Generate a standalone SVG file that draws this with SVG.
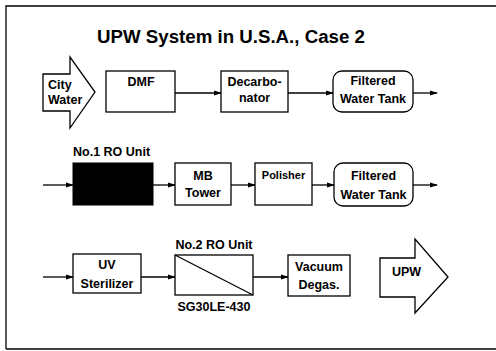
<svg xmlns="http://www.w3.org/2000/svg" width="496" height="351" viewBox="0 0 496 351">
<defs>
<style>
.t{font-family:"Liberation Sans",Arial,sans-serif;font-weight:bold;font-size:12.5px;fill:#000}
.c{text-anchor:middle}
.b{fill:#fff;stroke:#000;stroke-width:1.3}
.l{stroke:#000;stroke-width:1.3;fill:none}
</style>
<marker id="ah" markerWidth="8" markerHeight="6" refX="7" refY="3" orient="auto" markerUnits="userSpaceOnUse">
<path d="M0,0.5 L8,3 L0,5.5 Z" fill="#000"/>
</marker>
</defs>
<rect width="496" height="351" fill="#fff"/>
<g id="frame">
<path d="M6,349 L6,6 L496,6" class="l"/>
<path d="M6,349 L496,349" class="l"/>
</g>
<text id="title" x="97" y="43" class="t" style="font-size:18.7px">UPW System in U.S.A., Case 2</text>

<g id="connectors">
<line x1="175" y1="93" x2="221" y2="93" class="l" marker-end="url(#ah)"/>
<line x1="288" y1="93" x2="333" y2="93" class="l" marker-end="url(#ah)"/>
<line x1="413" y1="93" x2="437" y2="93" class="l" marker-end="url(#ah)"/>
<line x1="43" y1="185" x2="73" y2="185" class="l" marker-end="url(#ah)"/>
<line x1="153" y1="185" x2="175" y2="185" class="l" marker-end="url(#ah)"/>
<line x1="231" y1="185" x2="255" y2="185" class="l" marker-end="url(#ah)"/>
<line x1="312" y1="185" x2="334" y2="185" class="l" marker-end="url(#ah)"/>
<line x1="413" y1="185" x2="437" y2="185" class="l" marker-end="url(#ah)"/>
<line x1="43" y1="277" x2="73" y2="277" class="l" marker-end="url(#ah)"/>
<line x1="141" y1="277" x2="175" y2="277" class="l" marker-end="url(#ah)"/>
<line x1="253" y1="277" x2="288" y2="277" class="l" marker-end="url(#ah)"/>
</g>

<g id="city-water">
<polygon points="43,74 70,74 70,57 95,92 70,128 70,111 43,111" class="b"/>
<text x="48" y="89" class="t">City</text>
<text x="48" y="104" class="t">Water</text>
</g>
<g id="dmf">
<rect x="106" y="71" width="69" height="41" class="b"/>
<text x="141" y="86" class="t c">DMF</text>
</g>
<g id="decarbonator">
<rect x="221" y="71" width="67" height="41" class="b"/>
<text x="254.5" y="86" class="t c">Decarbo-</text>
<text x="254.5" y="102" class="t c">nator</text>
</g>
<g id="tank1">
<rect x="333" y="71" width="80" height="41" rx="9" class="b"/>
<text x="373" y="85" class="t c">Filtered</text>
<text x="373" y="103" class="t c">Water Tank</text>
</g>

<g id="ro1">
<text x="73" y="156" class="t">No.1 RO Unit</text>
<rect x="73" y="163" width="80" height="42" fill="#000" stroke="#000"/>
</g>
<g id="mb-tower">
<rect x="175" y="163" width="56" height="42" class="b"/>
<text x="203" y="180" class="t c">MB</text>
<text x="203" y="197" class="t c">Tower</text>
</g>
<g id="polisher">
<rect x="255" y="163" width="57" height="42" class="b"/>
<text x="283.5" y="179" class="t c" style="font-size:11px">Polisher</text>
</g>
<g id="tank2">
<rect x="334" y="163" width="79" height="43" rx="9" class="b"/>
<text x="373.5" y="180" class="t c">Filtered</text>
<text x="373.5" y="199" class="t c">Water Tank</text>
</g>

<g id="uv">
<rect x="73" y="254" width="68" height="39" class="b"/>
<text x="107" y="269" class="t c">UV</text>
<text x="107" y="288" class="t c">Sterilizer</text>
</g>
<g id="ro2">
<text x="214" y="249" class="t c">No.2 RO Unit</text>
<rect x="175" y="255" width="78" height="40" class="b"/>
<line x1="175" y1="255" x2="253" y2="295" class="l"/>
<text x="214" y="311" class="t c">SG30LE-430</text>
</g>
<g id="vacuum">
<rect x="288" y="255" width="62" height="41" class="b"/>
<text x="319" y="271" class="t c">Vacuum</text>
<text x="319" y="289" class="t c">Degas.</text>
</g>
<g id="upw">
<polygon points="380,258 415,258 415,239 448,277 415,313 415,297 380,297" class="b"/>
<text x="392" y="276" class="t">UPW</text>
</g>
</svg>
